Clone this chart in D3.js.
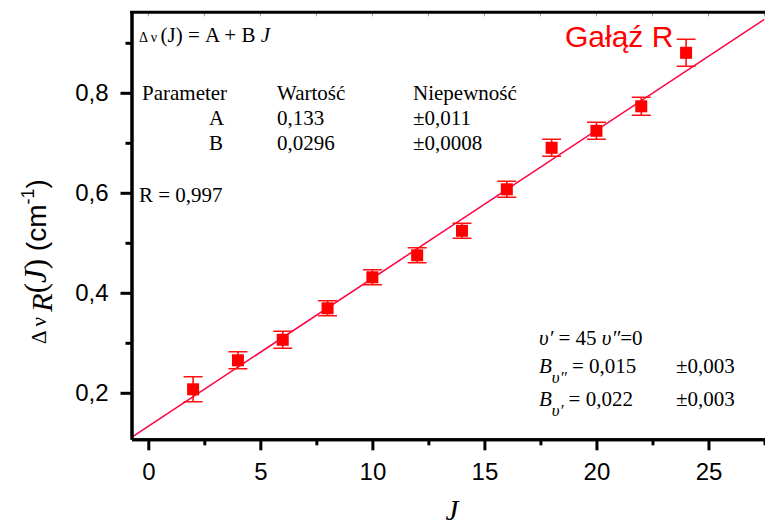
<!DOCTYPE html>
<html>
<head>
<meta charset="utf-8">
<script src="https://cdn.jsdelivr.net/npm/d3@7"></script>
<style>
  body { margin: 0; background: #fff; }
  svg { display: block; }
</style>
</head>
<body>
<svg id="chart" width="765" height="525"></svg>
<script>
// measured data (J, delta nu, error)
var rotJ = [2, 4, 6, 8, 10, 12, 14, 16, 18, 20, 22, 24];
var deltaNu = [0.207, 0.265, 0.306, 0.369, 0.431, 0.475, 0.524, 0.607, 0.690, 0.724, 0.773, 0.880];
var nuErr = [0.025, 0.017, 0.017, 0.015, 0.015, 0.015, 0.015, 0.016, 0.017, 0.017, 0.018, 0.027];

// fit parameters
var fitA = 0.133;
var fitB = 0.0296;

var xTicks = [0, 5, 10, 15, 20, 25];
var xMinor = [2.5, 7.5, 12.5, 17.5, 22.5, 27.5];
var yTicks = [0.2, 0.4, 0.6, 0.8];
var yMinor = [0.3, 0.5, 0.7, 0.9];

var SERIF = '"Liberation Serif", "Times New Roman", "DejaVu Serif", serif';
var SANS = '"Liberation Sans", Arial, sans-serif';

var svg = d3.select('#chart');

var x = d3.scaleLinear().domain([-0.75, 27.5]).range([131.5, 764.5]);
var y = d3.scaleLinear().domain([0.107, 0.961]).range([439.3, 12.3]);

var comma = d => d.toFixed(1).replace('.', ',');

// clip for plot area
svg.append('clipPath').attr('id', 'plotclip')
  .append('rect')
  .attr('x', x.range()[0]).attr('y', y.range()[1])
  .attr('width', x.range()[1] - x.range()[0])
  .attr('height', y.range()[0] - y.range()[1]);

// top axis thin inner ticks
svg.append('g')
  .selectAll('line')
  .data(d3.range(0, 28, 2.5))
  .join('line')
  .attr('x1', d => x(d)).attr('x2', d => x(d))
  .attr('y1', y.range()[1]).attr('y2', y.range()[1] + 4)
  .attr('stroke', '#999').attr('stroke-width', 1);

// fit line
var plot = svg.append('g').attr('clip-path', 'url(#plotclip)');
var fitLine = d3.line().x(d => x(d)).y(d => y(fitA + fitB * d));
plot.append('path')
  .datum(x.domain())
  .attr('d', fitLine)
  .attr('fill', 'none')
  .attr('stroke', '#ff0040')
  .attr('stroke-width', 1.5);

// error bars
var pts = rotJ.map((j, i) => ({ j: j, v: deltaNu[i], e: nuErr[i] }));
var eb = plot.append('g').attr('stroke', '#ff1010').attr('stroke-width', 1.6);
eb.selectAll('.stem').data(pts).join('line')
  .attr('x1', d => x(d.j)).attr('x2', d => x(d.j))
  .attr('y1', d => y(d.v + d.e)).attr('y2', d => y(d.v - d.e));
eb.selectAll('.capt').data(pts).join('line')
  .attr('x1', d => x(d.j) - 9.5).attr('x2', d => x(d.j) + 9.5)
  .attr('y1', d => y(d.v + d.e)).attr('y2', d => y(d.v + d.e));
eb.selectAll('.capb').data(pts).join('line')
  .attr('x1', d => x(d.j) - 9.5).attr('x2', d => x(d.j) + 9.5)
  .attr('y1', d => y(d.v - d.e)).attr('y2', d => y(d.v - d.e));

// squares
plot.append('g').selectAll('rect').data(pts).join('rect')
  .attr('x', d => x(d.j) - 6).attr('y', d => y(d.v) - 6)
  .attr('width', 12).attr('height', 12)
  .attr('fill', '#ff0000');

// axes
function styleAxis(g) {
  g.select('.domain').attr('stroke-width', 3).attr('stroke', '#000');
  g.selectAll('.tick line').attr('stroke-width', 3).attr('stroke', '#000');
  g.selectAll('.tick text')
    .style('font-family', SANS)
    .attr('font-size', 24).attr('fill', '#000');
}

svg.append('g')
  .attr('transform', `translate(0, ${y.range()[0]})`)
  .call(d3.axisBottom(x).tickValues(xTicks).tickSize(11).tickSizeOuter(0).tickPadding(12.5))
  .call(styleAxis);
svg.append('g')
  .attr('transform', `translate(0, ${y.range()[0]})`)
  .call(d3.axisBottom(x).tickValues(xMinor).tickSize(6).tickSizeOuter(0).tickFormat(''))
  .call(styleAxis);

svg.append('g')
  .attr('transform', `translate(${x.range()[0]}, 0)`)
  .call(d3.axisLeft(y).tickValues(yTicks).tickSize(11).tickSizeOuter(0).tickPadding(12).tickFormat(comma))
  .call(styleAxis);
svg.append('g')
  .attr('transform', `translate(${x.range()[0]}, 0)`)
  .call(d3.axisLeft(y).tickValues(yMinor).tickSize(6).tickSizeOuter(0).tickFormat(''))
  .call(styleAxis);

// top frame line
svg.append('line')
  .attr('x1', x.range()[0] - 1.5).attr('x2', 765)
  .attr('y1', y.range()[1]).attr('y2', y.range()[1])
  .attr('stroke', '#000').attr('stroke-width', 3);

function serifText(px, py, size) {
  return svg.append('text')
    .attr('x', px).attr('y', py)
    .style('font-family', SERIF)
    .attr('font-size', size)
    .attr('fill', '#000');
}

// x axis title
serifText(452, 520, 29)
  .attr('text-anchor', 'middle')
  .attr('font-style', 'italic')
  .text('J');

// y axis title
var yl = svg.append('text')
  .attr('transform', 'translate(46, 344) rotate(-90)')
  .attr('text-anchor', 'start')
  .style('font-family', SERIF);
yl.append('tspan').attr('font-size', 21).text('Δ ν ');
yl.append('tspan').attr('font-size', 30).attr('font-style', 'italic').attr('dy', 6).text('R');
yl.append('tspan').attr('font-size', 31).attr('dy', -6).text('(');
yl.append('tspan').attr('font-size', 31).attr('font-style', 'italic').text('J');
yl.append('tspan').attr('font-size', 31).text(')');
yl.append('tspan').style('font-family', SANS).attr('font-size', 28).text(' (cm');
yl.append('tspan').style('font-family', SANS).attr('font-size', 18).attr('dy', -12).text('-1');
yl.append('tspan').style('font-family', SANS).attr('font-size', 28).attr('dy', 12).text(')');

// fit info block
var eq = serifText(139, 42, 21);
eq.append('tspan').attr('font-size', 14).text('Δ ν ');
eq.append('tspan').text('(J) = A + B ');
eq.append('tspan').attr('font-style', 'italic').text('J');

var tableRows = [
  ['Parameter', 'Wartość', 'Niepewność'],
  ['A', '0,133', '±0,011'],
  ['B', '0,0296', '±0,0008']
];
var colX = [142, 277, 413];
tableRows.forEach(function(row, i) {
  row.forEach(function(cell, c) {
    serifText((c === 0 && i > 0) ? 209 : colX[c], 100 + i * 25, 21).text(cell);
  });
});

serifText(139, 202, 21).text('R = 0,997');

// branch label
svg.append('text')
  .attr('x', 565).attr('y', 47)
  .style('font-family', SANS)
  .attr('font-size', 30).attr('fill', '#ff0000')
  .text('Gałąź R');

// vibrational info
var v1 = serifText(539, 345, 21);
v1.append('tspan').attr('font-style', 'italic').text('υ′');
v1.append('tspan').text(' = 45  ');
v1.append('tspan').attr('font-style', 'italic').text('υ″');
v1.append('tspan').text('=0');

var v2 = serifText(539, 373, 21);
v2.append('tspan').attr('font-style', 'italic').text('B');
v2.append('tspan').attr('font-style', 'italic').attr('font-size', 17).attr('dy', 10).text('υ″');
v2.append('tspan').attr('dy', -10).text(' = 0,015');
serifText(676, 373, 21).text('±0,003');

var v3 = serifText(539, 406, 21);
v3.append('tspan').attr('font-style', 'italic').text('B');
v3.append('tspan').attr('font-style', 'italic').attr('font-size', 17).attr('dy', 10).text('υ′');
v3.append('tspan').attr('dy', -10).text('  = 0,022');
serifText(676, 406, 21).text('±0,003');
</script>
</body>
</html>
